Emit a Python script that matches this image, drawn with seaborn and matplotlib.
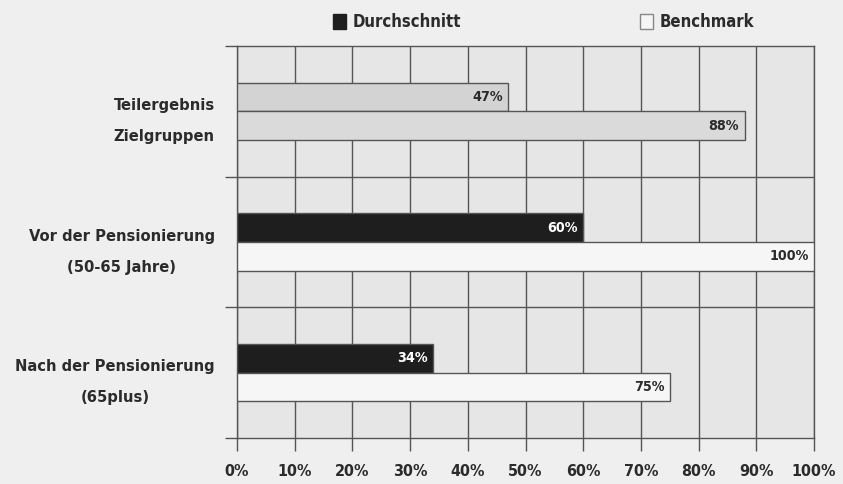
import pandas as pd
import matplotlib.pyplot as plt
import seaborn as sns
from matplotlib import font_manager
from matplotlib.patches import Patch

categories = ["Teilergebnis\nZielgruppen",
              "Vor der Pensionierung\n(50-65 Jahre)",
              "Nach der Pensionierung\n(65plus)"]
durchschnitt = [47, 60, 34]
benchmark = [88, 100, 75]
xticks = list(range(0, 101, 10))
xtick_labels = [f"{t}%" for t in xticks]

df = pd.DataFrame({
    "Gruppe": categories * 2,
    "Serie": ["Durchschnitt"] * 3 + ["Benchmark"] * 3,
    "Wert": durchschnitt + benchmark,
})

sns.set_style("white")

# look for a narrow bold face, the original uses a condensed font
narrow = None
for f in font_manager.fontManager.ttflist:
    if f.name in ("Liberation Sans Narrow", "DejaVu Sans Condensed") or \
            (f.name == "DejaVu Sans" and "ondensed" in str(f.stretch)):
        narrow = f
        break
if narrow is not None:
    plt.rcParams["font.family"] = [narrow.name, "DejaVu Sans"]
    plt.rcParams["font.stretch"] = "condensed"
    scale = 1.0
else:
    plt.rcParams["font.family"] = ["DejaVu Sans"]
    scale = 0.86
plt.rcParams["font.weight"] = "bold"

text_col = "#2b2b2b"
line_col = "#555555"

fig = plt.figure(figsize=(8.43, 4.84), dpi=100, facecolor="#efefef")
ax = fig.add_axes([237 / 843, 46 / 484, (814 - 237) / 843, (438 - 46) / 484])
ax.set_facecolor("#e6e6e6")

sns.barplot(data=df, y="Gruppe", x="Wert", hue="Serie", orient="h",
            width=0.44, ax=ax, legend=False, saturation=1,
            edgecolor=line_col, linewidth=1, zorder=3)

# colours: first group shaded grey, others dark / white
fills = {
    0: ["#d3d3d3", "#1e1e1e", "#1e1e1e"],
    1: ["#dadada", "#f6f6f6", "#f6f6f6"],
}
txt_cols = {
    0: [text_col, "white", "white"],
    1: [text_col, text_col, text_col],
}
for i, cont in enumerate(ax.containers):
    for j, bar in enumerate(cont):
        bar.set_facecolor(fills[i][j])
        w = bar.get_width()
        yc = bar.get_y() + bar.get_height() / 2
        ax.annotate(f"{w:.0f}%", (w, yc), xytext=(-4, 0), textcoords="offset points",
                    ha="right", va="center", fontsize=10.3 * scale, color=txt_cols[i][j],
                    fontweight="bold", zorder=4)

ax.set_xlim(0, 100)
ax.set_ylim(2.5, -0.5)
ax.vlines(xticks, -0.5, 2.5, color=line_col, lw=1, zorder=1)
ax.hlines([0.5, 1.5], 0, 100, color=line_col, lw=1, zorder=1)

ax.set_xticks(xticks)
ax.set_xticklabels(xtick_labels, fontsize=11.5 * scale, color=text_col)
ax.set_yticks([0, 1, 2])
ax.set_yticklabels(categories, fontsize=11.8 * scale, color=text_col,
                   linespacing=2.35, multialignment="center")
ax.set_yticks([-0.5, 0.5, 1.5, 2.5], minor=True)
ax.tick_params(axis="y", which="major", length=0, pad=16)
ax.tick_params(axis="y", which="minor", length=9, width=1, color=line_col, left=True)
ax.tick_params(axis="x", length=9, width=1, color=line_col, bottom=True, pad=10)
ax.set_xlabel("")
ax.set_ylabel("")
for s in ax.spines.values():
    s.set_color(line_col)
    s.set_linewidth(1)

handles = [Patch(facecolor="#1e1e1e", edgecolor="#1e1e1e", label="Durchschnitt"),
           Patch(facecolor="#f6f6f6", edgecolor="#888888", label="Benchmark")]
fig.legend(handles=handles, loc="center", bbox_to_anchor=(0.645, 0.955), ncol=2,
           frameon=False, columnspacing=10.7, handlelength=0.8, handleheight=1.0,
           handletextpad=0.4, prop={"size": 12 * scale, "weight": "bold"},
           labelcolor=text_col)

fig.savefig("out.png", dpi=100, facecolor=fig.get_facecolor())
